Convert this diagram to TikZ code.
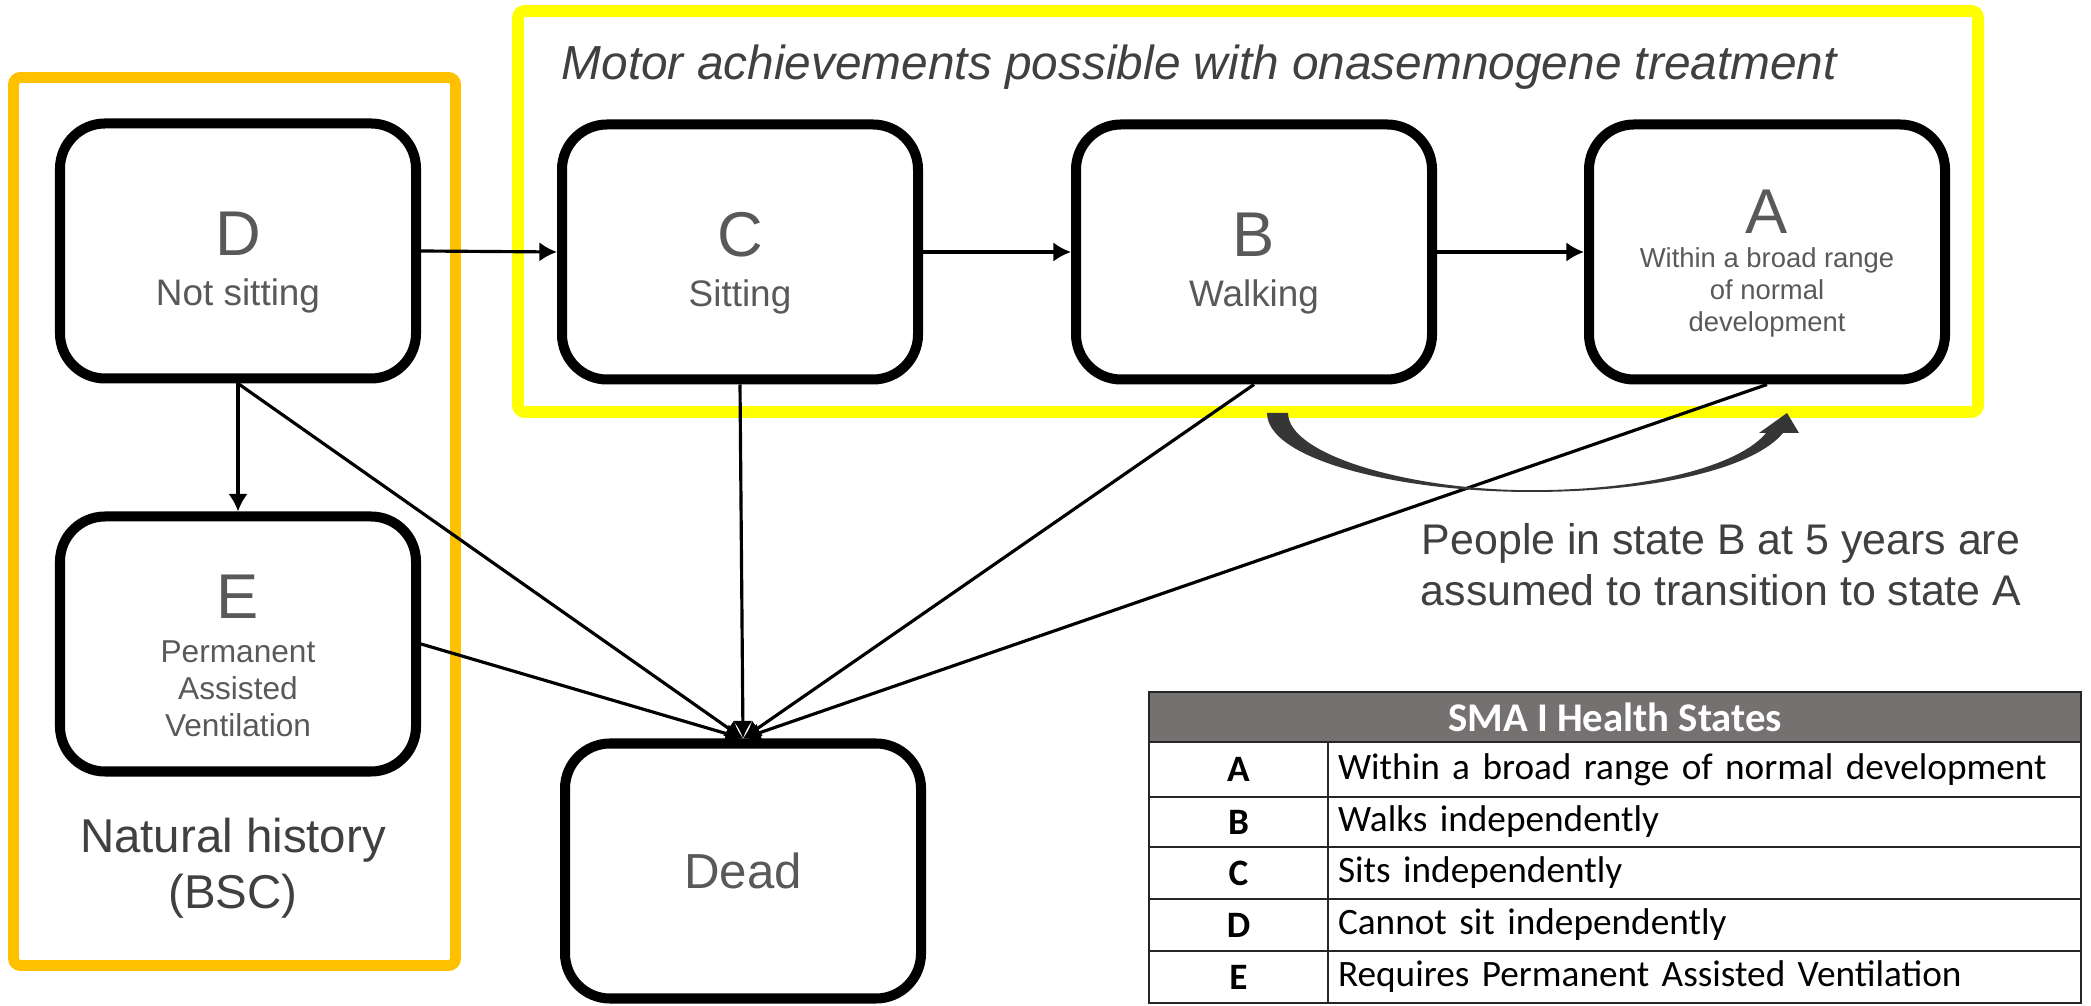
\documentclass[tikz,border=0pt]{standalone}
\usepackage{fontspec}
\setmainfont{Liberation Sans}
\newfontfamily\tablefont{Carlito}
\usepackage{tikz}
\usetikzlibrary{positioning,arrows.meta}

\definecolor{hiyellow}{HTML}{FFFF00}
\definecolor{hiorange}{HTML}{FFC000}
\definecolor{statetext}{HTML}{595959}
\definecolor{notetext}{HTML}{404040}
\definecolor{headgray}{HTML}{767171}
\definecolor{curvegray}{HTML}{363636}

\newcommand{\stateletter}[1]{{\fontsize{18}{18}\selectfont\rule{0pt}{19pt}#1}}

\begin{document}
\begin{tikzpicture}[
    state/.style={draw, line width=2.85pt, rounded corners=0.45cm, minimum width=3.56cm,
      minimum height=2.55cm, align=center, text=statetext, font=\fontsize{10.5}{14}\selectfont},
    link/.style={-{Latex[length=5pt,width=5.5pt]}, line width=0.9pt},
    cell/.style={draw=black!85, line width=0.8pt, inner sep=0pt, outer sep=0pt},
    key/.style={cell, minimum width=1.79cm, font=\tablefont\bfseries\fontsize{10.6}{12}\selectfont},
    desc/.style={cell, text width=7.33cm, inner xsep=0.1cm, align=left,
      font=\tablefont\fontsize{10.6}{12}\selectfont}
  ]
    \useasboundingbox (0,0) rectangle (20.91,10.05);

    % frames
    \draw [hiorange, line width=3.1pt, rounded corners=2pt] (0.135,0.395) rectangle (4.555,9.275);
    \draw [hiyellow, line width=3.4pt, rounded corners=2pt] (5.18,5.93) rectangle (19.78,9.94);
    \node [anchor=base west, inner sep=0pt, text=notetext, font=\fontsize{13.6}{16}\selectfont\itshape]
      (title) at (5.61,9.25) {Motor achievements possible with onasemnogene treatment};

    % health states
    \node [state] (D) at (2.38,7.54) {\stateletter{D}\\Not sitting};
    \node [state] (C) at (7.40,7.53) {\stateletter{C}\\Sitting};
    \node [state] (B) at (12.54,7.53) {\stateletter{B}\\Walking};
    \node [state, font=\fontsize{7.8}{9.1}\selectfont] (A) at (17.67,7.53)
      {\stateletter{A}\\[0.8pt]Within a broad range\\of normal\\development};
    \node [state, font=\fontsize{9}{10.5}\selectfont] (E) at (2.38,3.61)
      {\stateletter{E}\\[2pt]Permanent\\Assisted\\Ventilation};
    \node [state, font=\fontsize{14}{16}\selectfont] (dead) at (7.43,1.34) {Dead};

    \draw [link] (D.east) -- (C.west);
    \draw [link] (C.east) -- (B.west);
    \draw [link] (B.east) -- (A.west);
    \draw [link] (D.south) -- (E.north);
    \draw [link] (D.south) -- (dead.north);
    \draw [link] (C.south) -- (dead.north);
    \draw [link] (B.south) -- (dead.north);
    \draw [link] (A.south) -- (dead.north);
    \draw [link] (E.east) -- (dead.north);

    % B at 5 years -> A
    \fill [curvegray] (12.67,5.92) .. controls (12.67,5.45) and (14.0,5.13) .. (15.31,5.13)
      .. controls (16.6,5.13) and (17.55,5.38) .. (17.83,5.72)
      -- (17.99,5.72) -- (17.87,5.92) -- (17.59,5.72) -- (17.66,5.72)
      .. controls (17.40,5.40) and (16.5,5.148) .. (15.31,5.148)
      .. controls (14.1,5.148) and (12.88,5.50) .. (12.88,5.92) -- cycle;

    \node [align=center, text=notetext, font=\fontsize{12.2}{14.5}\selectfont] (note) at (17.21,4.40)
      {People in state B at 5 years are\\assumed to transition to state A};
    \node [align=center, text=notetext, font=\fontsize{13.5}{16}\selectfont] (nathist) at (2.33,1.37)
      {Natural history\\(BSC)};

    % key table
    \node [cell, fill=headgray, text=white, minimum width=9.32cm, minimum height=0.5cm,
      font=\tablefont\bfseries\fontsize{11.6}{13}\selectfont] (head) at (16.15,2.88) {SMA I Health States};
    \node [key, minimum height=0.55cm, below right=0pt and 0pt of head.south west] (kA) {A};
    \node [desc, minimum height=0.55cm, right=0pt of kA] (dA) {Within a broad range of normal development};
    \node [key, minimum height=0.5cm, below=0pt of kA] (kB) {B};
    \node [desc, minimum height=0.5cm, right=0pt of kB] (dB) {Walks independently};
    \node [key, minimum height=0.52cm, below=0pt of kB] (kC) {C};
    \node [desc, minimum height=0.52cm, right=0pt of kC] (dC) {Sits independently};
    \node [key, minimum height=0.52cm, below=0pt of kC] (kD) {D};
    \node [desc, minimum height=0.52cm, right=0pt of kD] (dD) {Cannot sit independently};
    \node [key, minimum height=0.52cm, below=0pt of kD] (kE) {E};
    \node [desc, minimum height=0.52cm, right=0pt of kE] (dE) {Requires Permanent Assisted Ventilation};
\end{tikzpicture}
\end{document}
